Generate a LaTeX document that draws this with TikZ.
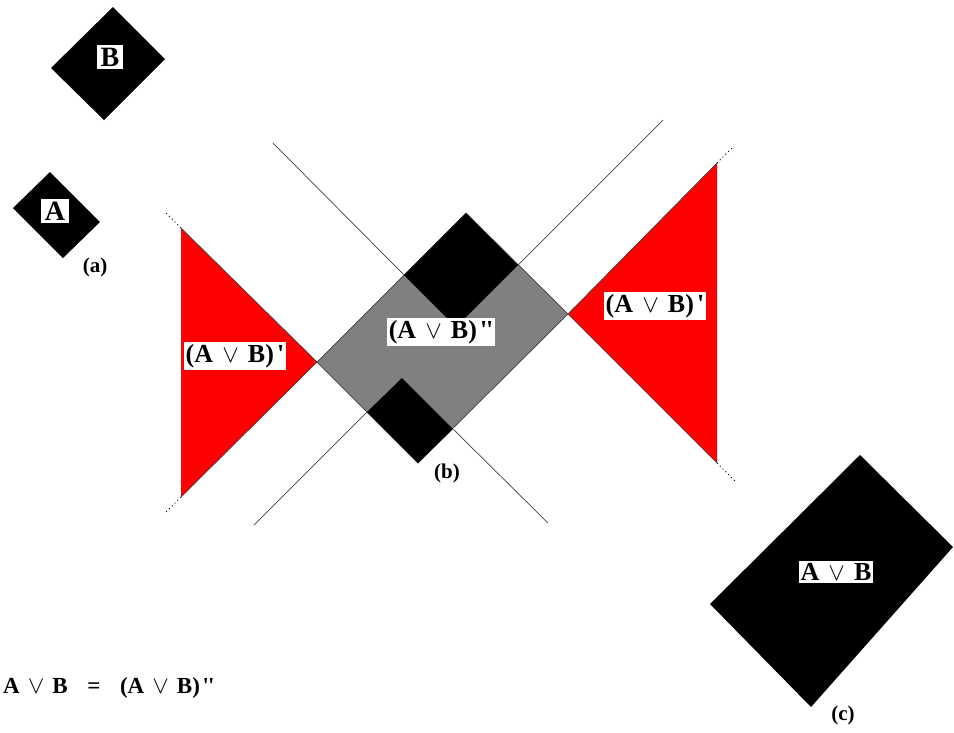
\documentclass[tikz,border=0pt]{standalone}
\usepackage{fontspec}
\setmainfont{Liberation Serif}
\usetikzlibrary{calc}
\definecolor{ConeRed}{HTML}{FF0000}
\definecolor{DoubleGray}{HTML}{808080}
\newcommand{\vv}{\hspace{.35em}$\vee$\hspace{.35em}}
\newcommand{\pr}{\hspace{.12em}\textquotesingle}
\newcommand{\ppr}{\hspace{.12em}\textquotesingle\hspace{-.05em}\textquotesingle}

\begin{document}
\begin{tikzpicture}[x=1pt, y=-1pt,
  lbl/.style={fill=white, inner sep=2pt, font=\bfseries\fontsize{26}{28}\selectfont},
  big/.style={lbl, inner xsep=3.5pt, inner ysep=2.5pt, font=\bfseries\fontsize{28}{30}\selectfont},
  tag/.style={font=\bfseries\fontsize{21}{23}\selectfont},
  cone/.style={draw=black!75, line width=0.7pt},
  ext/.style={black, line width=0.9pt, dash pattern=on 1pt off 3pt}]
\useasboundingbox (0,0) rectangle (954,732);

% Regions A and B, panel (a)
\fill (113,7) -- (165,59) -- (104,120) -- (51,68) -- cycle;
\node[big] (labB) at (110,57) {B};
\fill (50,172) -- (100,222) -- (63,258) -- (13,208) -- cycle;
\node[big] (labA) at (55,211) {A};
\node[tag] (tagA) at (95,267) {(a)};

% Corners of (A v B)'' and of the two regions inside it
\coordinate (gL) at (317,362);
\coordinate (gT) at (466,213);
\coordinate (gR) at (568,314);
\coordinate (gB) at (418,463);
\coordinate (bL) at (404,275);
\coordinate (bR) at (518,265);
\coordinate (bB) at (456,327);
\coordinate (aL) at (367,412);
\coordinate (aR) at (453,429);
\coordinate (aT) at (402,378);

% Light rays
\coordinate (r1) at (273,143);
\coordinate (r2) at (663,120);
\coordinate (r3) at (254,525);
\coordinate (r4) at (548,523);
\draw[cone] (r1) -- (bL);
\draw[cone] (bR) -- (r2);
\draw[cone] (aL) -- (r3);
\draw[cone] (aR) -- (r4);

% Causal complement (A v B)'
\coordinate (lT) at (181,228);
\coordinate (lB) at (181,497);
\coordinate (rT) at (717,163);
\coordinate (rB) at (717,463);
\fill[ConeRed] (lT) -- (gL) -- (lB) -- cycle;
\fill[ConeRed] (rT) -- (gR) -- (rB) -- cycle;
\draw[cone] (lT) -- (gL) -- (lB);
\draw[cone] (rT) -- (gR) -- (rB);
\foreach \p/\ex/\ey in {lT/165/212, lB/165/513, rT/733/147, rB/735/481}
{
  \coordinate (e\p) at (\ex,\ey);
}

% Dotted continuations
\draw[ext] (lT) -- (elT);
\draw[ext] (lB) -- (elB);
\draw[ext] (rT) -- (erT);
\draw[ext] (rB) -- (erB);

% (A v B)'' with B and A, panel (b)
\filldraw[fill=DoubleGray, cone] (gL) -- (gT) -- (gR) -- (gB) -- cycle;
\fill (gT) -- (bR) -- (bB) -- (bL) -- cycle;
\fill (aT) -- (aR) -- (gB) -- (aL) -- cycle;

\node[lbl] (labL) at (235,356) {(A\vv B)\pr};
\node[lbl] (labR) at (655,306) {(A\vv B)\pr};
\node[lbl] (labM) at (441,332) {(A\vv B)\ppr};
\node[tag] (tagB) at (447,473) {(b)};

% A v B, panel (c)
\fill (860,455) -- (953,547) -- (811,707) -- (710,604) -- cycle;
\node[lbl] (labC) at (836,572) {A\vv B};
\node[tag] (tagC) at (843,715) {(c)};

% Result
\node[font=\bfseries\fontsize{23}{25}\selectfont, anchor=west, inner sep=0pt] (eqn) at (3,688)
  {A\vv B \hspace{.6em}=\hspace{.6em} (A\vv B)\ppr};
\end{tikzpicture}
\end{document}
